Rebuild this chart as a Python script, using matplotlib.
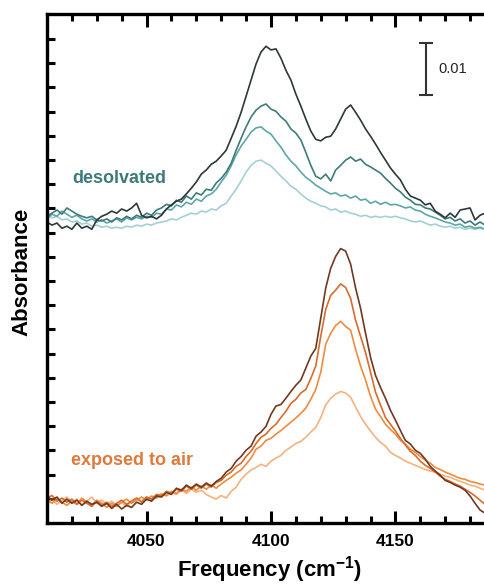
#!/usr/bin/env python3
"""IR spectra (H2 stretch region): desolvated sample vs. exposed to air.

Genera out.png (485x588 px).
"""
import numpy as np
import matplotlib
matplotlib.use("Agg")
import matplotlib.pyplot as plt

plt.rcParams["font.family"] = ["Liberation Sans", "DejaVu Sans"]
plt.rcParams["mathtext.fontset"] = "custom"
plt.rcParams["mathtext.bf"] = "Liberation Sans:bold"
plt.rcParams["mathtext.rm"] = "Liberation Sans:bold"
plt.rcParams["mathtext.default"] = "bf"

# frecuencia (cm-1), muestreo cada 2 cm-1
freq = np.arange(4010, 4187, 2)

# absorbancia en mOD respecto a la línea base de cada grupo
desolv_1 = [0.9, 0.3, 0.7, -0.3, 0.1, -0.5, 0.7, -0.3, 0.1, -0.5,
            1.3, 2.0, 2.4, 3.0, 2.6, 3.4, 3.0, 3.6, 4.5, 2.2,
            1.7, 2.0, 1.5, 2.2, 3.4, 4.2, 4.9, 5.3, 6.3, 7.4,
            8.6, 10.1, 10.9, 12.0, 12.6, 13.6, 14.7, 17.0, 19.3, 22.0,
            25.1, 28.2, 31.3, 33.6, 34.7, 34.0, 34.2, 32.4, 30.1, 28.2,
            25.5, 23.2, 20.7, 18.4, 16.8, 16.5, 17.2, 17.4, 18.8, 20.7,
            22.6, 23.4, 22.0, 20.5, 18.8, 17.4, 15.9, 14.3, 12.8, 11.3,
            10.1, 9.0, 7.2, 5.9, 5.5, 5.1, 4.2, 4.5, 3.0, 2.4,
            1.7, 2.6, 1.8, 3.2, 3.4, 3.6, 1.3, 2.2, 2.6]
desolv_2 = [2.0, 2.6, 3.2, 2.4, 3.6, 3.0, 2.4, 2.0, 1.7, 2.0,
            1.3, 1.1, 1.5, 0.9, 1.7, 1.3, 2.0, 1.5, 2.2, 1.8,
            2.6, 2.2, 3.2, 3.6, 4.3, 4.0, 5.1, 4.7, 5.9, 5.3,
            6.5, 6.1, 7.2, 7.0, 8.4, 9.3, 10.5, 12.2, 14.7, 17.0,
            19.2, 21.1, 22.4, 23.2, 23.6, 22.6, 22.2, 21.1, 20.3, 18.8,
            18.0, 16.7, 14.3, 11.8, 9.7, 9.2, 10.1, 8.8, 10.9, 11.8,
            12.8, 13.4, 12.6, 13.0, 12.0, 11.5, 10.9, 10.3, 9.3, 8.4,
            7.4, 6.7, 5.7, 5.1, 4.3, 4.2, 3.6, 3.4, 2.8, 2.2,
            1.5, 1.8, 1.1, 1.5, 0.7, 1.1, 0.3, 0.9, 0.3]
desolv_3 = [1.5, 2.4, 2.0, 3.0, 2.4, 1.8, 2.2, 1.5, 1.1, 1.5,
            0.9, 1.3, 0.7, 1.1, 1.5, 0.9, 1.7, 1.3, 1.8, 1.5,
            2.0, 1.8, 2.6, 2.4, 3.4, 3.2, 4.2, 3.8, 4.7, 4.3,
            5.3, 4.9, 5.9, 6.3, 7.2, 8.6, 9.9, 11.7, 13.8, 15.5,
            16.8, 18.2, 19.0, 19.2, 18.4, 17.8, 16.5, 15.3, 13.8, 12.6,
            11.7, 10.5, 9.5, 8.8, 8.0, 7.4, 6.8, 6.3, 6.5, 5.9,
            6.1, 5.5, 5.9, 5.1, 5.3, 4.5, 4.9, 4.3, 4.7, 4.2,
            4.3, 4.0, 3.6, 3.8, 3.2, 3.0, 2.4, 2.0, 1.7, 1.3,
            0.9, 0.7, 0.3, 0.5, -0.1, 0.1, -0.3, -0.1, -0.5]
desolv_4 = [2.4, 1.7, 2.0, 1.3, 1.5, 0.9, 1.1, 0.5, 0.7, 0.1,
            0.3, -0.1, 0.1, -0.3, -0.1, -0.3, 0.1, -0.1, 0.3, 0.1,
            0.5, 0.3, 0.7, 0.9, 1.1, 1.5, 1.3, 1.8, 2.2, 2.6,
            2.4, 3.0, 2.8, 3.4, 3.2, 4.0, 4.5, 5.9, 7.2, 8.8,
            10.5, 11.8, 12.6, 12.8, 12.2, 11.7, 10.7, 9.7, 8.8, 7.8,
            7.2, 6.3, 5.5, 4.9, 4.5, 4.0, 3.8, 3.2, 3.4, 2.8,
            3.0, 2.6, 2.4, 2.0, 2.2, 1.8, 2.0, 1.8, 2.0, 1.8,
            2.0, 1.7, 1.5, 1.1, 0.9, 1.1, 0.7, 0.3, 0.5, 0.1,
            -0.1, 0.1, -0.3, -0.1, -0.5, -0.3, -0.5, -0.3, -0.5]

air_1 = [1.2, 0.4, 1.0, -0.2, 0.6, -0.2, 0.4, -0.6, 0.2, -0.4,
         0.0, -0.8, -0.2, -1.2, -0.4, -1.3, -0.6, -1.0, 0.0, -0.4,
         0.6, 0.2, 1.2, 1.0, 1.9, 1.5, 2.7, 2.3, 3.3, 2.7,
         3.5, 2.9, 3.7, 3.1, 4.0, 4.6, 5.8, 6.5, 7.9, 8.8,
         10.0, 10.8, 12.7, 13.5, 14.6, 16.9, 18.5, 18.8, 20.0, 21.3,
         22.5, 23.5, 25.8, 28.1, 29.6, 35.4, 41.2, 45.0, 47.3, 48.8,
         48.3, 45.8, 41.2, 37.3, 32.5, 27.9, 24.4, 22.1, 20.0, 17.7,
         15.8, 13.8, 11.9, 11.2, 10.0, 9.4, 8.3, 6.9, 6.0, 5.2,
         4.2, 3.8, 3.3, 2.9, 2.3, 1.2, -0.2, -1.5, -2.1]
air_2 = [0.8, 1.3, 0.2, 0.8, 0.0, 0.6, -0.4, 0.4, -0.2, -0.8,
         0.2, -0.6, 0.0, -0.8, -0.2, 0.4, -0.4, 0.2, 0.8, 0.0,
         1.0, 0.6, 1.5, 1.2, 2.1, 1.7, 2.5, 2.1, 3.1, 2.5,
         3.3, 2.7, 3.5, 2.9, 3.8, 4.2, 5.2, 5.8, 6.9, 7.5,
         8.8, 9.8, 11.3, 12.5, 13.1, 14.2, 15.0, 16.3, 17.5, 19.0,
         19.8, 21.0, 21.7, 23.8, 26.2, 31.9, 37.1, 39.8, 40.8, 42.0,
         41.3, 39.2, 35.0, 31.9, 28.8, 25.0, 21.2, 18.7, 16.3, 15.0,
         13.7, 12.3, 11.0, 9.8, 9.0, 7.9, 7.1, 6.5, 5.8, 5.0,
         4.4, 4.0, 3.5, 3.1, 2.5, 1.9, 1.2, 0.4, -0.4]
air_3 = [0.4, -0.2, 0.6, 0.0, -0.6, 0.2, -0.4, 0.8, 0.0, -0.6,
         0.4, -0.2, -1.0, -0.2, -0.8, 0.0, 0.6, -0.2, 0.4, 1.0,
         0.4, 1.2, 0.8, 1.5, 1.3, 2.1, 1.7, 2.5, 2.1, 2.9,
         2.3, 3.1, 2.5, 3.3, 2.7, 3.5, 4.2, 4.8, 5.6, 6.2,
         7.3, 8.5, 10.2, 10.8, 11.9, 12.3, 13.1, 13.8, 14.6, 15.4,
         16.2, 17.1, 18.1, 19.8, 21.7, 25.0, 30.4, 32.5, 34.0, 34.8,
         33.8, 33.1, 29.4, 26.2, 23.5, 20.4, 17.9, 16.5, 15.0, 14.0,
         13.1, 11.9, 11.2, 10.2, 9.6, 8.8, 8.1, 7.5, 6.7, 6.3,
         5.8, 5.4, 5.0, 4.6, 4.4, 4.0, 3.8, 3.5, 3.3]
air_4 = [-0.2, 0.6, -0.4, 0.4, 1.0, 0.0, 0.6, -0.6, 0.2, 1.0,
         -0.2, 0.4, -0.4, 0.2, -0.6, 0.0, -0.8, 0.2, 0.8, 0.2,
         1.0, 0.4, 1.2, 1.7, 1.2, 1.9, 1.5, 2.3, 1.7, 2.5,
         1.9, 2.3, 1.5, 1.0, 0.6, 1.3, 0.8, 2.1, 2.9, 4.4,
         5.4, 6.2, 6.7, 7.3, 6.9, 7.9, 8.5, 9.0, 10.0, 10.6,
         11.3, 11.7, 12.5, 13.5, 14.4, 16.3, 18.7, 20.0, 20.8, 21.3,
         21.0, 20.2, 18.3, 16.5, 15.0, 13.7, 12.5, 11.5, 10.8, 9.6,
         9.0, 8.5, 7.9, 7.5, 7.1, 6.7, 6.3, 6.0, 5.8, 5.4,
         5.0, 4.8, 4.4, 4.0, 3.7, 3.3, 3.1, 2.7, 2.3]

desolv_series = [desolv_4, desolv_3, desolv_2, desolv_1]
air_series = [air_4, air_3, air_2, air_1]

# estilo / posiciones
DESOLV_COLORS = ["#a3d0d5", "#5ea6ab", "#3e7b7b", "#2e3838"]
AIR_COLORS = ["#f6b27c", "#f08b3e", "#d86c2a", "#6f3a22"]
DESOLV_OFFSET = 57.0   # mOD, desplazamiento vertical del grupo
AIR_OFFSET = 4.0
YMAX = 98.0
TICK_STEP = 4.654
SCALE_BAR = 10.0       # mOD = 0.01


def main():
    fig = plt.figure(figsize=(4.85, 5.88), dpi=100)
    ax = fig.add_axes([0.0969, 0.1105, 0.9031, 0.8665])

    for vals, c in zip(desolv_series, DESOLV_COLORS):
        ax.plot(freq, np.array(vals) + DESOLV_OFFSET, color=c, lw=1.2)
    for vals, c in zip(air_series, AIR_COLORS):
        ax.plot(freq, np.array(vals) + AIR_OFFSET, color=c, lw=1.2)

    ax.set_xlim(4010, 4186)
    ax.set_ylim(0, YMAX)
    ax.set_xticks([4050, 4100, 4150])
    ax.set_xticks(np.arange(4020, 4186, 10), minor=True)
    ax.set_yticks(np.arange(1, 21) * TICK_STEP)
    ax.set_yticklabels([])
    ax.tick_params(axis="x", which="major", direction="in", length=9, width=2.2,
                   top=True, labelsize=12.5, pad=8)
    ax.tick_params(axis="x", which="minor", direction="in", length=5, width=2.2, top=True)
    ax.tick_params(axis="y", direction="in", length=6, width=2.2)
    for lab in ax.get_xticklabels():
        lab.set_fontweight("bold")
    for side in ["left", "bottom", "top"]:
        ax.spines[side].set_linewidth(2.4)
    ax.spines["right"].set_visible(False)

    # barra de escala
    ybar = 82.3 + SCALE_BAR / 2
    ax.errorbar([4162.4], [ybar], yerr=SCALE_BAR / 2, color="#333333", lw=1.5,
                capsize=5, capthick=1.5)
    ax.text(4167.3, ybar, "0.01", fontsize=10.5, va="center", ha="left", color="#222222")

    ax.text(4020.1, 66.2, "desolvated", fontsize=13, fontweight="bold",
            color="#3f7a7a", va="center", ha="left")
    ax.text(4019.7, 12.1, "exposed to air", fontsize=13, fontweight="bold",
            color="#e07a3c", va="center", ha="left")

    fig.text(0.045, 0.537, "Absorbance", rotation=90, fontsize=16,
             fontweight="bold", ha="center", va="center")
    fig.text(0.555, 0.032, r"Frequency (cm$^{-1}$)", fontsize=16,
             fontweight="bold", ha="center", va="center")

    fig.savefig("out.png", dpi=100, facecolor="white")


if __name__ == "__main__":
    main()
